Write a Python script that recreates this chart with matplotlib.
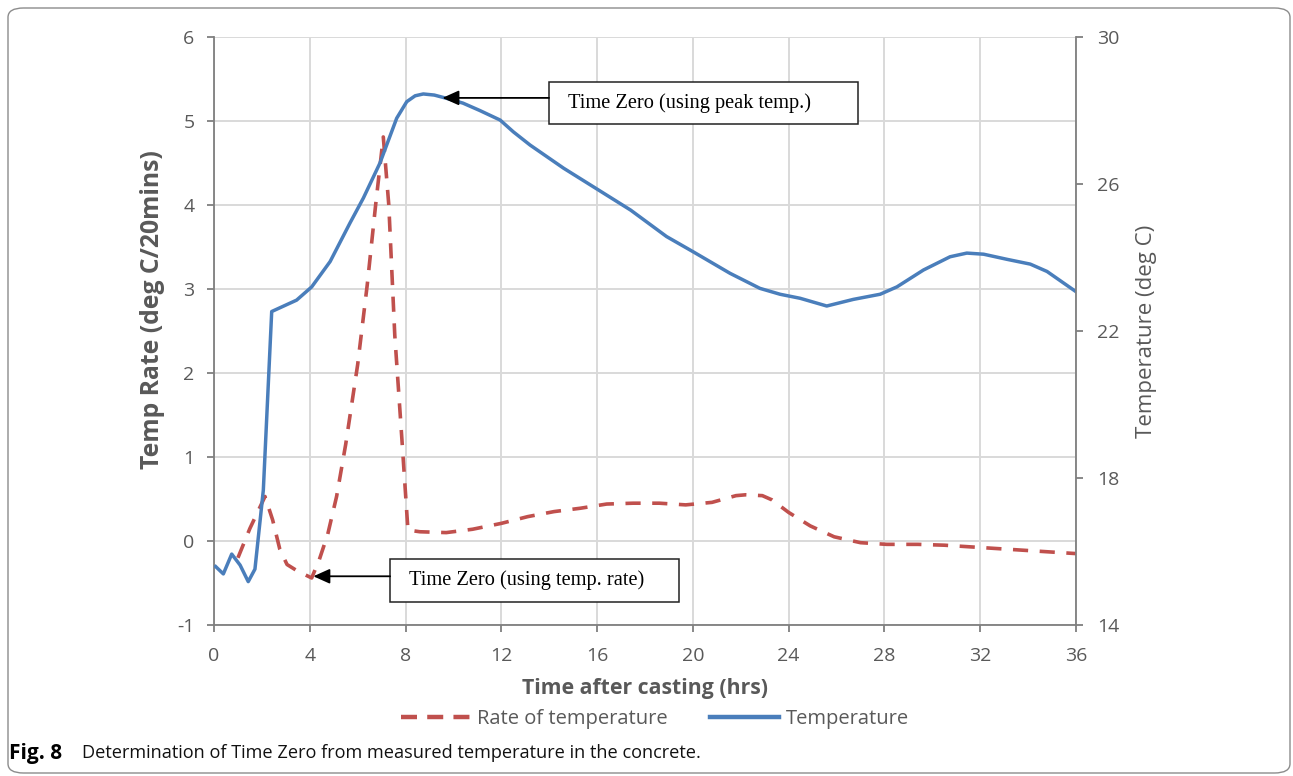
import matplotlib
matplotlib.use("Agg")
import matplotlib.pyplot as plt
from matplotlib.patches import FancyBboxPatch, Rectangle
from matplotlib.lines import Line2D

# ---------------- data ----------------
rate_time = [1.0, 1.5, 2.13, 2.45, 2.75, 3.05, 3.5, 4.08, 4.4, 4.75, 5.12, 5.5, 6.0,
             6.4, 6.75, 7.07, 7.3, 7.55, 7.85, 8.1, 8.6, 9.7, 10.8, 12.0, 13.1, 14.2,
             15.3, 16.4, 17.5, 18.6, 19.7, 20.8, 21.8, 22.2, 22.9, 23.3, 24.0, 24.9,
             25.9, 27.0, 28.1, 29.4, 30.5, 31.6, 32.7, 33.8, 34.9, 36.0]
rate_vals = [-0.20, 0.15, 0.53, 0.25, -0.10, -0.28, -0.36, -0.44, -0.22, 0.08, 0.53,
             1.15, 2.10, 3.05, 4.00, 4.81, 4.00, 2.45, 1.20, 0.13, 0.11, 0.10, 0.14,
             0.21, 0.29, 0.35, 0.39, 0.44, 0.45, 0.45, 0.43, 0.46, 0.54, 0.55, 0.54,
             0.49, 0.34, 0.18, 0.05, -0.02, -0.04, -0.04, -0.05, -0.07, -0.09, -0.11,
             -0.13, -0.15]

temp_time = [0.07, 0.39, 0.74, 1.09, 1.43, 1.71, 2.06, 2.41, 3.45, 4.08, 4.85, 5.68,
             6.24, 6.93, 7.63, 8.05, 8.4, 8.74, 9.2, 9.72, 10.4, 11.1, 11.95, 12.5,
             13.2, 14.6, 16.05, 17.4, 18.9, 20.0, 21.55, 22.8, 23.64, 24.48, 25.59,
             26.7, 27.82, 28.52, 29.63, 30.74, 31.44, 32.14, 33.12, 34.09, 34.79, 36.0]
temp_vals = [15.59, 15.39, 15.93, 15.63, 15.18, 15.52, 17.67, 22.53, 22.84, 23.20,
             23.89, 24.94, 25.62, 26.57, 27.79, 28.24, 28.40, 28.45, 28.42, 28.33,
             28.20, 28.00, 27.74, 27.42, 27.06, 26.43, 25.84, 25.29, 24.57, 24.16,
             23.57, 23.16, 23.00, 22.89, 22.68, 22.86, 23.00, 23.20, 23.66, 24.02,
             24.12, 24.09, 23.95, 23.82, 23.62, 23.07]

x_ticks = [0, 4, 8, 12, 16, 20, 24, 28, 32, 36]
rate_ticks = [-1, 0, 1, 2, 3, 4, 5, 6]
temp_ticks = [14, 18, 22, 26, 30]

x_label = "Time after casting (hrs)"
rate_label = "Temp Rate (deg C/20mins)"
temp_label = "Temperature (deg C)"
rate_name = "Rate of temperature"
temp_name = "Temperature"
note_peak = "Time Zero (using peak temp.)"
note_rate = "Time Zero (using temp. rate)"
caption_bold = "Fig. 8"
caption_text = "Determination of Time Zero from measured temperature in the concrete."

# ---------------- style ----------------
BLUE = "#4a7ebb"
RED = "#c0504d"
GRAY_TXT = "#595959"
SPINE = "#7f7f7f"
GRID = "#d9d9d9"
SANS = ["Open Sans", "DejaVu Sans"]
SERIF = ["Liberation Serif", "DejaVu Serif"]

plt.rcParams['font.family'] = SANS
plt.rcParams['axes.unicode_minus'] = False

fig = plt.figure(figsize=(12.93, 7.76), dpi=100)
ax = fig.add_axes([214/1293, 1-625/776, (1076-214)/1293, (625-37)/776])
ax2 = ax.twinx()

ax.set_xlim(0, 36)
ax.set_ylim(-1, 6)
ax2.set_ylim(14, 30)
ax.set_xticks(x_ticks)
ax.set_yticks(rate_ticks)
ax2.set_yticks(temp_ticks)

ax.grid(True, color=GRID, linewidth=1.4)
ax.set_axisbelow(True)

for a in (ax, ax2):
    a.spines["top"].set_visible(False)
    for s in ("left", "right", "bottom"):
        a.spines[s].set_color(SPINE)
        a.spines[s].set_linewidth(1.3)
    a.tick_params(colors=SPINE, labelcolor=GRAY_TXT, labelsize=14,
                  length=5, width=1.3, direction="out")
ax2.spines["left"].set_visible(False)
ax2.spines["bottom"].set_visible(False)
ax.spines["right"].set_visible(False)
ax.tick_params(axis="y", pad=9)
ax.tick_params(axis="x", pad=11)
ax2.tick_params(axis="y", pad=10)

ax.plot(rate_time, rate_vals, color=RED, lw=2.6, linestyle=(0, (4.2, 3.2)),
        label=rate_name)
ax2.plot(temp_time, temp_vals, color=BLUE, lw=2.5, label=temp_name,
         solid_joinstyle="round")

ax.set_xlabel(x_label, fontsize=15.3, fontweight="bold", color=GRAY_TXT, labelpad=9)
ax.set_ylabel(rate_label, fontsize=17.8, fontweight="bold", color=GRAY_TXT)
ax.yaxis.set_label_coords(-0.057, 0.536)
ax2.set_ylabel(temp_label, fontsize=16, color=GRAY_TXT, labelpad=12)

# ---------------- annotations (in rate-axis data coords) ----------------
def note(x0, x1, y0, y1, text, tip):
    r = Rectangle((x0, y0), x1 - x0, y1 - y0, transform=ax.transData,
                  facecolor="white", edgecolor="#222222", lw=1.1, zorder=5,
                  clip_on=False)
    ax2.add_patch(r)
    ax2.text(x0 + 0.8, (y0 + y1) / 2, text, transform=ax.transData, family=SERIF,
             fontsize=14.7, color="black", ha="left", va="center", zorder=6)
    ax2.annotate("", xy=tip, xycoords=ax.transData,
                 xytext=(x0, tip[1]), textcoords=ax.transData,
                 arrowprops=dict(arrowstyle="-|>,head_length=1.0,head_width=0.45",
                                 color="black", lw=1.3, shrinkA=0, shrinkB=0),
                 zorder=6)

note(13.99, 26.9, 4.964, 5.468, note_peak, (9.54, 5.275))
note(7.355, 19.43, -0.723, -0.218, note_rate, (4.15, -0.42))

# ---------------- legend ----------------
h1 = Line2D([], [], color=RED, lw=3.2, linestyle=(0, (3.6, 2.3)))
h2 = Line2D([], [], color=BLUE, lw=3.2)
leg = fig.legend([h1, h2], [rate_name, temp_name], loc="center",
                 bbox_to_anchor=(655/1293, 1-719/776), ncol=2, frameon=False,
                 fontsize=14.5, handlelength=3.45, handletextpad=0.3,
                 columnspacing=2.1)
for t in leg.get_texts():
    t.set_color(GRAY_TXT)

# ---------------- caption & frame ----------------
fig.text(9/1293, 1-753/776, caption_bold, family=SANS, fontweight="bold",
         fontsize=15, color="black", va="center", ha="left")
fig.text(82/1293, 1-753/776, caption_text, family=SANS, fontsize=13.1,
         color="#111111", va="center", ha="left")

frame = FancyBboxPatch((8/1293, 1-773/776), (1290-8)/1293, (773-8)/776,
                       boxstyle="round,pad=0,rounding_size=0.012",
                       transform=fig.transFigure, facecolor="none",
                       edgecolor="#8c8c8c", lw=1.0)
fig.patches.append(frame)

fig.savefig("out.png", dpi=100)
